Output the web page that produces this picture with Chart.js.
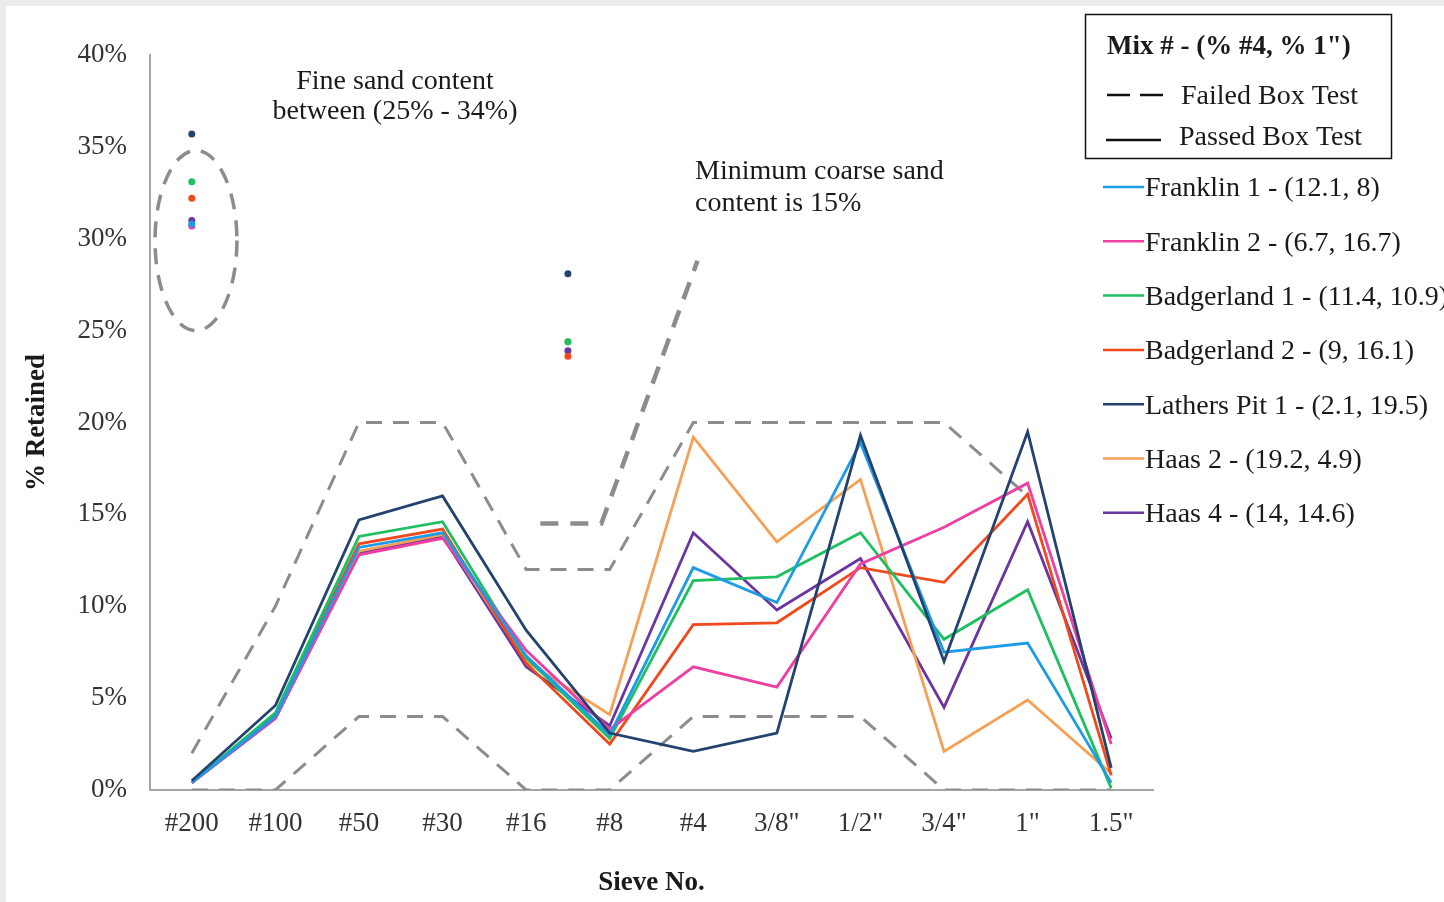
<!DOCTYPE html>
<html>
<head>
<meta charset="utf-8">
<script src="https://cdn.jsdelivr.net/npm/chart.js@4.4.1/dist/chart.umd.min.js"></script>
<style>
  body { margin: 0; background: #ebebeb; }
  #wrap { position: absolute; left: 6px; top: 6px; width: 1438px; height: 896px; background: #fff; }
</style>
</head>
<body>
<div id="wrap"><canvas id="grafico"></canvas></div>
<script>
// sieve sizes (x axis)
const sieves = ['#200', '#100', '#50', '#30', '#16', '#8', '#4', '3/8"', '1/2"', '3/4"', '1"', '1.5"'];

// % retained per sieve
const franklin1   = [0.4, 4.0, 13.2, 14.0, 7.3, 3.0, 12.1, 10.2, 18.9, 7.5, 8.0, 0.4];
const franklin2   = [0.4, 3.9, 12.8, 13.7, 7.6, 3.3, 6.7, 5.6, 12.3, 14.3, 16.7, 2.5];
const badgerland1 = [0.4, 4.2, 13.8, 14.6, 7.2, 2.8, 11.4, 11.6, 14.0, 8.2, 10.9, 0.1];
const badgerland2 = [0.4, 4.1, 13.4, 14.2, 6.9, 2.5, 9.0, 9.1, 12.1, 11.3, 16.1, 0.8];
const lathersPit1 = [0.5, 4.6, 14.7, 16.0, 8.7, 3.1, 2.1, 3.1, 19.3, 7.0, 19.5, 1.2];
const haas2       = [0.4, 4.0, 13.0, 13.9, 7.0, 4.1, 19.2, 13.5, 16.9, 2.1, 4.9, 0.9];
const haas4       = [0.4, 3.9, 12.9, 13.8, 6.7, 3.5, 14.0, 9.8, 12.6, 4.5, 14.6, 2.8];

// fine sand dots (at #200) and coarse sand dots (between #16 and #8), same order as the mixes
const fineSand   = [30.8, 30.7, 33.1, 32.2, 35.7, null, 31.0];
const coarseSand = [null, null, 24.4, 23.6, 28.1, 24.4, 23.9];
const coarseSandX = 4.5;

// spec envelope (gray dashed)
const upperLimit = [2, 10, 20, 20, 12, 12, 20, 20, 20, 20, 16, null];
const lowerLimit = [0, 0, 4, 4, 0, 0, 4, 4, 4, 0, 0, 0];

// minimum coarse sand line
const coarseLineX = [4.17, 4.9, 6.05];
const coarseLineY = [14.5, 14.5, 28.8];

// ellipse round the fine sand dots: center x (index), center y (%), half width (index), half height (%)
const fineEllipse = [0.05, 29.9, 0.49, 4.9];

const mixes = [
  { nome: 'Franklin 1 - (12.1, 8)',      dados: franklin1,   cor: '#1E9BE6' },
  { nome: 'Franklin 2 - (6.7, 16.7)',    dados: franklin2,   cor: '#EE3FA2' },
  { nome: 'Badgerland 1 - (11.4, 10.9)', dados: badgerland1, cor: '#1DBF5F' },
  { nome: 'Badgerland 2 - (9, 16.1)',    dados: badgerland2, cor: '#F0491C' },
  { nome: 'Lathers Pit 1 - (2.1, 19.5)', dados: lathersPit1, cor: '#24426F' },
  { nome: 'Haas 2 - (19.2, 4.9)',        dados: haas2,       cor: '#F5A055' },
  { nome: 'Haas 4 - (14, 14.6)',         dados: haas4,       cor: '#6B35A0' },
];

const toXY = arr => arr.map((v, i) => ({ x: i, y: v }));
const cinza = '#8c8c8c';
const serif = "'Liberation Serif', 'Times New Roman', serif";

const datasets = [];
// lines
mixes.forEach((m, i) => {
  datasets.push({
    label: m.nome,
    data: toXY(m.dados),
    borderColor: m.cor,
    backgroundColor: m.cor,
    borderWidth: 2.8,
    pointRadius: 0,
    tension: 0,
    order: i === 4 ? 0 : 1
  });
});
// dots
mixes.forEach((m, i) => {
  const pts = [];
  if (fineSand[i] != null) pts.push({ x: 0, y: fineSand[i] });
  if (coarseSand[i] != null) pts.push({ x: coarseSandX, y: coarseSand[i] });
  datasets.push({
    label: m.nome + ' pts',
    data: pts,
    showLine: false,
    pointRadius: 3.5,
    pointBorderWidth: 0,
    pointBackgroundColor: m.cor,
    order: 0
  });
});
// limits
datasets.push({
  label: 'upper', data: toXY(upperLimit), borderColor: cinza, borderWidth: 3,
  borderDash: [16, 11], pointRadius: 0, order: 5
});
datasets.push({
  label: 'lower', data: toXY(lowerLimit), borderColor: cinza, borderWidth: 3,
  borderDash: [16, 11], pointRadius: 0, order: 5
});
datasets.push({
  label: 'coarse', data: coarseLineX.map((x, i) => ({ x, y: coarseLineY[i] })),
  borderColor: cinza, borderWidth: 4.5, borderDash: [18, 12], pointRadius: 0, order: 5
});

// ellipse, notes and legend
const extras = {
  id: 'extras',
  beforeDatasetsDraw(chart) {
    const { ctx, scales: { x, y } } = chart;
    const cx = x.getPixelForValue(fineEllipse[0]);
    const cy = y.getPixelForValue(fineEllipse[1]);
    const rx = x.getPixelForValue(fineEllipse[2]) - x.getPixelForValue(0);
    const ry = y.getPixelForValue(0) - y.getPixelForValue(fineEllipse[3]);
    ctx.save();
    ctx.strokeStyle = cinza;
    ctx.lineWidth = 3.5;
    ctx.setLineDash([16, 11]);
    ctx.beginPath();
    ctx.ellipse(cx, cy, rx, ry, 0, 0, Math.PI * 2);
    ctx.stroke();
    ctx.restore();
  },
  afterDraw(chart) {
    const ctx = chart.ctx;
    ctx.save();
    ctx.fillStyle = '#1a1a1a';
    ctx.font = '28px ' + serif;
    ctx.textBaseline = 'middle';
    // notes
    ctx.textAlign = 'center';
    ctx.fillText('Fine sand content', 389, 76);
    ctx.fillText('between (25% - 34%)', 389, 106);
    ctx.textAlign = 'left';
    ctx.fillText('Minimum coarse sand', 689, 166);
    ctx.fillText('content is 15%', 689, 198);

    // legend box
    ctx.strokeStyle = '#111';
    ctx.lineWidth = 1.5;
    ctx.strokeRect(1079.5, 8.5, 306, 144);
    ctx.font = 'bold 27px ' + serif;
    ctx.fillText('Mix # - (% #4, % 1")', 1101, 41);
    ctx.font = '28px ' + serif;
    ctx.lineWidth = 2.5;
    ctx.beginPath();
    ctx.moveTo(1101, 89); ctx.lineTo(1124, 89);
    ctx.moveTo(1134, 89); ctx.lineTo(1157, 89);
    ctx.moveTo(1100, 134); ctx.lineTo(1155, 134);
    ctx.stroke();
    ctx.fillText('Failed Box Test', 1175, 91);
    ctx.fillText('Passed Box Test', 1173, 132);

    mixes.forEach((m, i) => {
      const yy = 181 + i * 54.3;
      ctx.strokeStyle = m.cor;
      ctx.lineWidth = 2.5;
      ctx.beginPath();
      ctx.moveTo(1097, yy); ctx.lineTo(1138, yy);
      ctx.stroke();
      ctx.fillText(m.nome, 1139, yy + 2);
    });
    ctx.restore();
  }
};

new Chart(document.getElementById('grafico'), {
  type: 'line',
  data: { datasets },
  plugins: [extras],
  options: {
    responsive: true,
    maintainAspectRatio: false,
    animation: false,
    layout: { padding: { top: 49, right: 291, bottom: 0, left: 0 } },
    plugins: {
      legend: { display: false },
      tooltip: { enabled: false }
    },
    scales: {
      x: {
        type: 'linear',
        min: -0.5,
        max: 11.5,
        afterBuildTicks: s => { s.ticks = sieves.map((_, i) => ({ value: i })); },
        afterFit: s => { s.height = 112; },
        grid: { display: false, drawTicks: false },
        border: { display: true, color: '#a6a6a6', width: 2 },
        ticks: {
          autoSkip: false, maxRotation: 0, padding: 18, color: '#333',
          font: { family: serif, size: 27 },
          callback: v => sieves[v]
        },
        title: {
          display: true, text: 'Sieve No.', color: '#1a1a1a',
          font: { family: serif, size: 27, weight: 'bold' },
          padding: { top: 0, bottom: 3 }
        }
      },
      y: {
        min: 0,
        max: 40,
        afterFit: s => { s.width = 144; },
        grid: { display: false, drawTicks: false },
        border: { display: true, color: '#a6a6a6', width: 2 },
        ticks: {
          stepSize: 5, padding: 23, color: '#333',
          font: { family: serif, size: 27 },
          callback: v => v + '%'
        },
        title: {
          display: true, text: '% Retained', color: '#1a1a1a',
          font: { family: serif, size: 27, weight: 'bold' },
          padding: { top: 15, bottom: 0 }
        }
      }
    }
  }
});
</script>
</body>
</html>
